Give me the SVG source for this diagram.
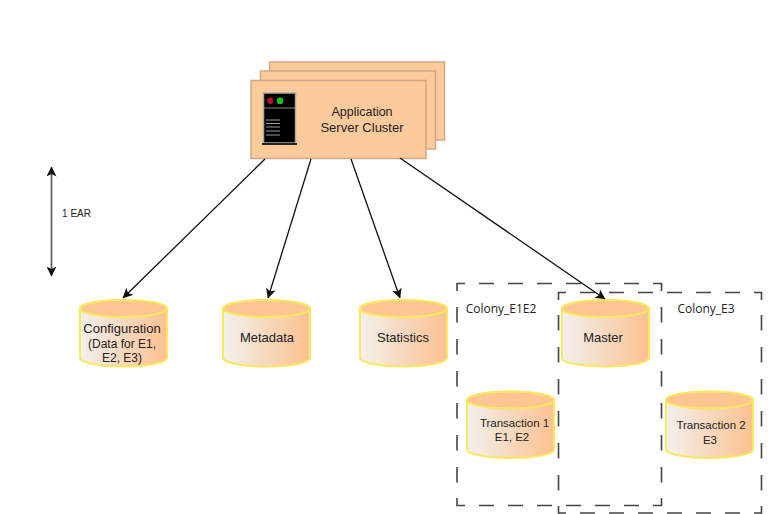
<svg xmlns="http://www.w3.org/2000/svg" width="768" height="514" viewBox="0 0 768 514">
<style>
text{font-family:"Liberation Sans",Arial,sans-serif;fill:#222;text-anchor:middle}
.sheet{fill:#fdca9b;stroke:#cfa983;stroke-width:1.5}
.body{fill:url(#cyl);stroke:#f8e860;stroke-width:2}
.top{fill:#fcc592;stroke:#f8e860;stroke-width:2}
.conn{fill:none;stroke:#111;stroke-width:1.3}
.span{fill:none;stroke:#555;stroke-width:1.6}
.zone{fill:none;stroke:#444;stroke-width:1.6}
.hz{stroke-dasharray:15 14}
.vt{stroke-dasharray:15.500 16.500}
.name{font-family:"Open Sans","Liberation Sans",sans-serif;font-size:12px}
.t13{font-size:13px}.t125{font-size:12.500px}.t12{font-size:12px}.t115{font-size:11.500px}.t10{font-size:10px}
</style>
<defs>
<linearGradient id="cyl" x1="0" x2="1" y1="0" y2="0"><stop offset="0" stop-color="#f3f0ec"/><stop offset="1" stop-color="#fcc190"/></linearGradient>
<marker id="head" viewBox="0 0 10 10" refX="9.500" refY="5" markerWidth="10" markerHeight="10" markerUnits="userSpaceOnUse" orient="auto-start-reverse"><path d="M0 0L10 5L0 10L2.500 5Z" fill="#111"/></marker>
<path id="can" d="M0 9.500A43.500 8.500 0 0 1 87 9.500V59A43.500 8.500 0 0 1 0 59Z"/>
<ellipse id="lid" cx="43.500" cy="9.500" rx="43.500" ry="8.500"/>
</defs>
<g id="server-cluster">
<rect class="sheet" x="269.500" y="62" width="175" height="78"/>
<rect class="sheet" x="260.500" y="71" width="175" height="78"/>
<rect class="sheet" x="251" y="80.500" width="175" height="78"/>
<rect x="263.500" y="93" width="32" height="50" fill="#000" stroke="#aaa" stroke-width="1.500"/>
<path d="M264 108H295" stroke="#888" stroke-width="1"/>
<rect x="262" y="143" width="35" height="2" fill="#222"/>
<rect x="267.500" y="97.500" width="5.500" height="6.500" rx="2" fill="#b8102a"/>
<rect x="277" y="97.500" width="6" height="6.500" rx="2" fill="#18c02c"/>
<path d="M266 120H280M266 123.500H280M266 127H280M266 131H280M266 135H280" stroke="#999" stroke-width="1"/>
<text class="t125" x="362" y="116">Application</text>
<text class="t13" x="362" y="131.500">Server Cluster</text>
</g>
<g id="configuration"><use href="#can" x="80" y="299" class="body"/><use href="#lid" x="80" y="299" class="top"/>
<text class="t13" x="122" y="333">Configuration</text><text class="t12" x="122" y="348">(Data for E1,</text><text class="t12" x="122" y="362">E2, E3)</text></g>
<g id="metadata"><use href="#can" x="223" y="299" class="body"/><use href="#lid" x="223" y="299" class="top"/>
<text class="t13" x="267" y="342">Metadata</text></g>
<g id="statistics"><use href="#can" x="360" y="299" class="body"/><use href="#lid" x="360" y="299" class="top"/>
<text class="t13" x="403" y="342">Statistics</text></g>
<g id="master"><use href="#can" x="562" y="299" class="body"/><use href="#lid" x="562" y="299" class="top"/>
<text class="t13" x="603" y="342">Master</text></g>
<g id="transaction-1"><use href="#can" x="467" y="390.500" class="body"/><use href="#lid" x="467" y="390.500" class="top"/>
<text class="t115" x="514.500" y="427">Transaction 1</text><text class="t115" x="512" y="441">E1, E2</text></g>
<g id="transaction-2"><use href="#can" x="666" y="390.500" class="body"/><use href="#lid" x="666" y="390.500" class="top"/>
<text class="t115" x="711" y="429">Transaction 2</text><text class="t115" x="710" y="444">E3</text></g>
<g id="colony-e1e2">
<path class="zone" d="M457 291V283.500H465M653 283.500H661.500V291M661.500 498V505.500H653M465 505.500H457V498"/>
<path class="zone hz" d="M479 283.500H640M479 505.500H640"/>
<path class="zone vt" d="M457 307V483M661.500 307V483"/>
<text class="name" x="501" y="313">Colony_E1E2</text></g>
<g id="colony-e3">
<path class="zone" d="M558.500 300V292.500H566M754 292.500H761.500V300M761.500 506V513H754M566 513H558.500V506"/>
<path class="zone hz" d="M580 292.500H741M580 513H741"/>
<path class="zone vt" d="M558.500 315V491M761.500 315V491"/>
<text class="name" x="706" y="313">Colony_E3</text></g>
<g id="connectors">
<path class="conn" marker-end="url(#head)" d="M265 159L123 298"/>
<path class="conn" marker-end="url(#head)" d="M311 159L268 298"/>
<path class="conn" marker-end="url(#head)" d="M351 159L400 298"/>
<path class="conn" marker-end="url(#head)" d="M400 158L605 299"/>
<path class="span" marker-start="url(#head)" marker-end="url(#head)" d="M51.500 167V276"/>
</g>
<text class="t10" x="76.500" y="217">1 EAR</text>
</svg>
